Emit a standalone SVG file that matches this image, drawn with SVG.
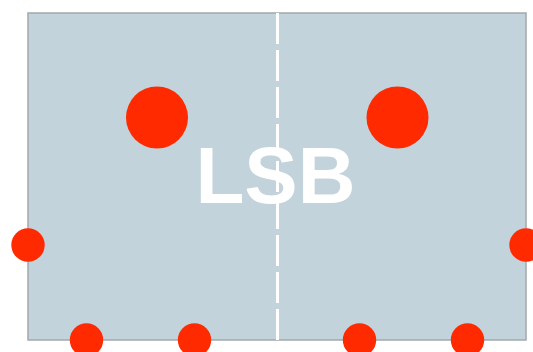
<svg xmlns="http://www.w3.org/2000/svg" width="533" height="352" viewBox="0 0 533 352">
  <style>
    .field { fill: #c3d3db; stroke: #a3a8ac; stroke-width: 1.5; }
    .mid { stroke: #ffffff; stroke-width: 3; stroke-dasharray: 31 6; fill: none; }
    .dot { fill: #ff2a00; }
    .lbl { font-family: "Liberation Sans", Arial, sans-serif; font-weight: bold; font-size: 80px; fill: #ffffff; }
  </style>
  <rect width="533" height="352" fill="#ffffff"/>
  <g id="field">
    <rect class="field" x="28" y="13" width="498" height="327"/>
  </g>
  <g id="label">
    <text class="lbl" x="275.5" y="203" text-anchor="middle">LSB</text>
  </g>
  <g id="connectors">
    <line class="mid" x1="277.5" y1="13" x2="277.5" y2="340"/>
  </g>
  <g id="big-left"><circle class="dot" cx="157" cy="117.5" r="31"/></g>
  <g id="big-right"><circle class="dot" cx="397.5" cy="117.5" r="31"/></g>
  <g id="side-left"><circle class="dot" cx="28" cy="245" r="16.7"/></g>
  <g id="side-right"><circle class="dot" cx="526" cy="245" r="16.7"/></g>
  <g id="bottom-1"><circle class="dot" cx="86.5" cy="340" r="16.7"/></g>
  <g id="bottom-2"><circle class="dot" cx="194.5" cy="340" r="16.7"/></g>
  <g id="bottom-3"><circle class="dot" cx="359.5" cy="340" r="16.7"/></g>
  <g id="bottom-4"><circle class="dot" cx="467.5" cy="340" r="16.7"/></g>
</svg>
